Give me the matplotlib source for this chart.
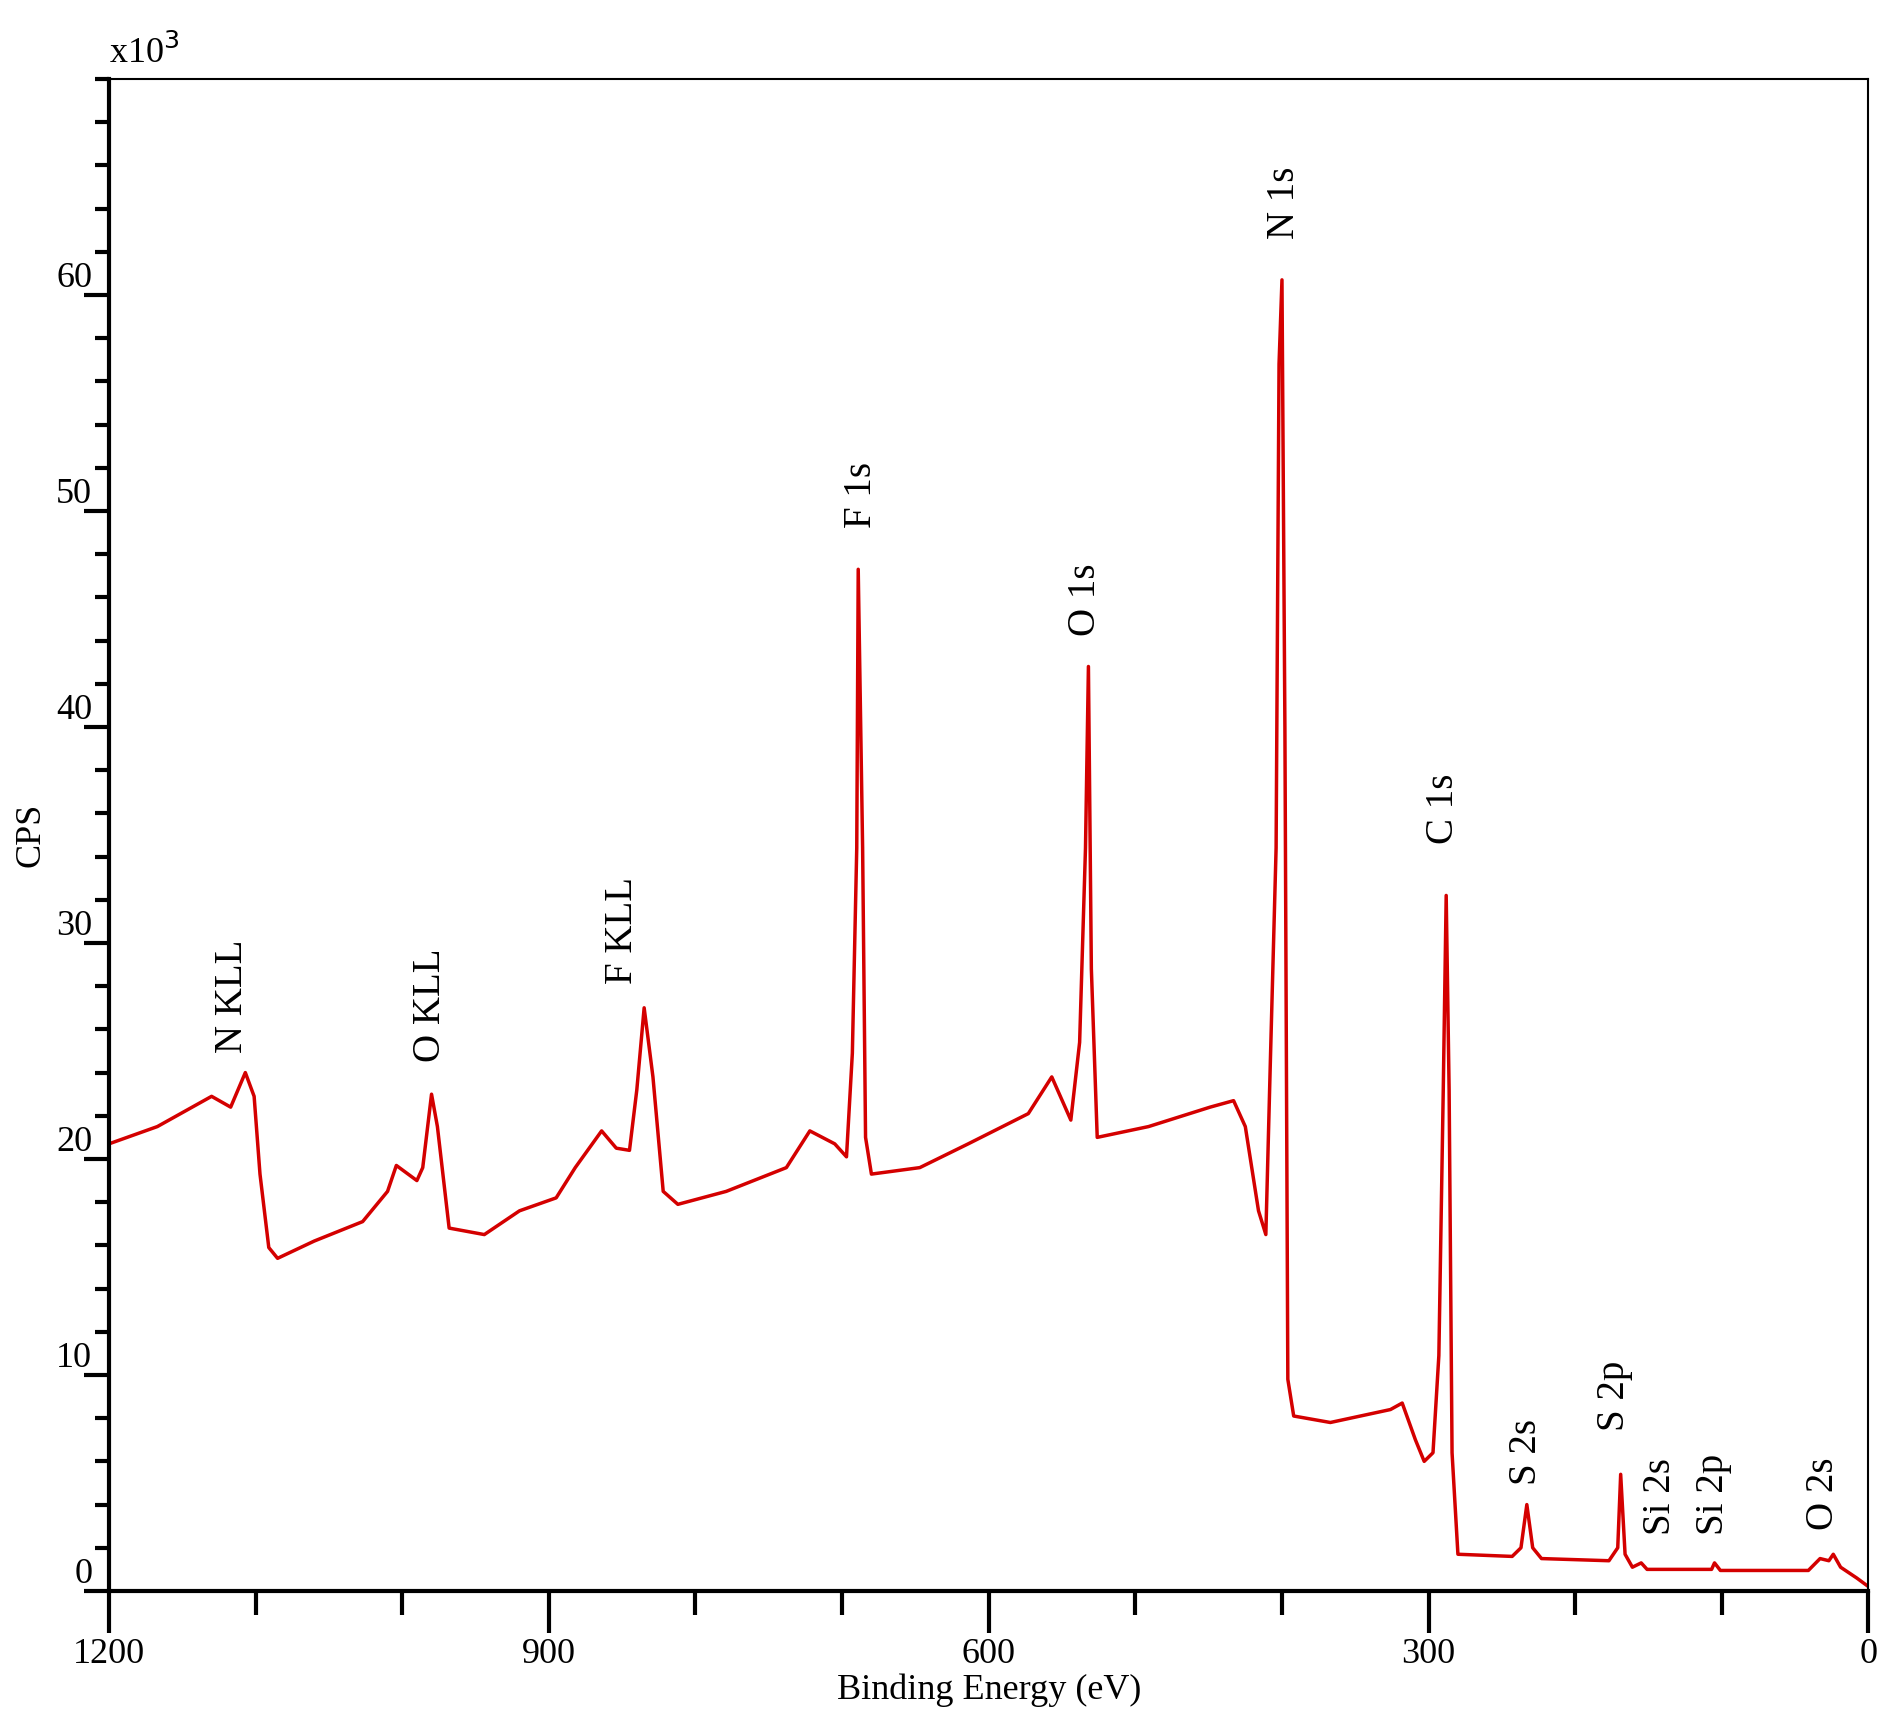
import numpy as np
import matplotlib.pyplot as plt
from matplotlib.ticker import MultipleLocator

plt.rcParams['font.family'] = ['Liberation Serif', 'DejaVu Serif']

# spectrum: binding energy (eV) and counts (x1000)
energy = [1200, 1167, 1130, 1117, 1107, 1101, 1097, 1091, 1085, 1060, 1027, 1010, 1004,
          990, 986, 980, 976, 968, 944, 920, 895, 882, 864, 854, 845, 840, 835, 829,
          822, 812, 779, 738, 722, 705, 697, 693, 690, 689, 686, 684, 680, 647, 614,
          573, 557, 544, 538, 534, 532, 530, 526, 491, 449, 433, 425, 416, 411, 408,
          404, 402, 400, 398, 396, 392, 367, 326, 318, 309, 303, 297, 293, 290, 288,
          286, 284, 280, 243, 237, 233, 229, 223, 177, 171, 169, 166, 161, 155, 151,
          107, 105, 101, 41, 33, 27, 24, 19, 8, 0]
cps_k = [20.7, 21.5, 22.9, 22.4, 24.0, 22.9, 19.3, 15.9, 15.4, 16.2, 17.1, 18.5, 19.7,
         19.0, 19.6, 23.0, 21.5, 16.8, 16.5, 17.6, 18.2, 19.6, 21.3, 20.5, 20.4, 23.2,
         27.0, 23.8, 18.5, 17.9, 18.5, 19.6, 21.3, 20.7, 20.1, 24.9, 34.4, 47.3, 34.4,
         21.0, 19.3, 19.6, 20.7, 22.1, 23.8, 21.8, 25.4, 34.4, 42.8, 28.8, 21.0, 21.5,
         22.4, 22.7, 21.5, 17.6, 16.5, 24.3, 34.4, 56.8, 60.7, 40.0, 9.8, 8.1, 7.8,
         8.4, 8.7, 7.0, 6.0, 6.4, 10.9, 23.2, 32.2, 23.2, 6.4, 1.7, 1.6, 2.0, 4.0, 2.0,
         1.5, 1.4, 2.0, 5.4, 1.7, 1.1, 1.3, 1.0, 1.0, 1.3, 0.95, 0.95, 1.5, 1.4, 1.7,
         1.1, 0.6, 0.2]

peak_names = ['N KLL', 'O KLL', 'F KLL', 'F 1s', 'O 1s', 'N 1s', 'C 1s',
              'S 2s', 'S 2p', 'Si 2s', 'Si 2p', 'O 2s']
peak_x = [1116, 981, 850, 687, 534, 398, 290, 233, 173, 142, 106, 31]
peak_y = [24.9, 24.5, 28.1, 49.2, 44.2, 62.6, 34.6, 4.9, 7.4, 2.6, 2.6, 2.8]

fig = plt.figure(figsize=(18.95, 17.17), dpi=100)
ax = fig.add_axes([0.0575, 0.0734, 0.9285, 0.8806])
ax.plot(energy, np.array(cps_k) * 1000, color='#d40000', lw=2.5)
for name, x, y in zip(peak_names, peak_x, peak_y):
    ax.text(x, y * 1000, name, rotation=90, ha='center', va='bottom', fontsize=28)

ax.set_xlim(1200, 0)
ax.set_ylim(0, 70000)
ax.xaxis.set_major_locator(MultipleLocator(300))
ax.xaxis.set_minor_locator(MultipleLocator(100))
ax.yaxis.set_major_locator(MultipleLocator(10000))
ax.yaxis.set_minor_locator(MultipleLocator(2000))
ax.set_yticks(range(0, 70000, 10000), [str(v) for v in range(0, 70, 10)])
ax.tick_params(axis='x', which='major', length=30, width=3, labelsize=26, pad=4)
ax.tick_params(axis='x', which='minor', length=17, width=3)
ax.tick_params(axis='y', which='major', length=18, width=3, labelsize=26, pad=-6)
ax.tick_params(axis='y', which='minor', length=10, width=3)
for lbl in ax.get_yticklabels():
    lbl.set_verticalalignment('bottom')
for side in ['left', 'bottom']:
    ax.spines[side].set_linewidth(3)
for side in ['top', 'right']:
    ax.spines[side].set_linewidth(1.5)
ax.set_xlabel('Binding Energy (eV)', fontsize=26, labelpad=2)
ax.set_ylabel('CPS', fontsize=26, labelpad=6)
ax.text(0.0, 1.005, r'x10$^3$', transform=ax.transAxes, fontsize=26,
        ha='left', va='bottom')
fig.savefig('out.png', dpi=100)
